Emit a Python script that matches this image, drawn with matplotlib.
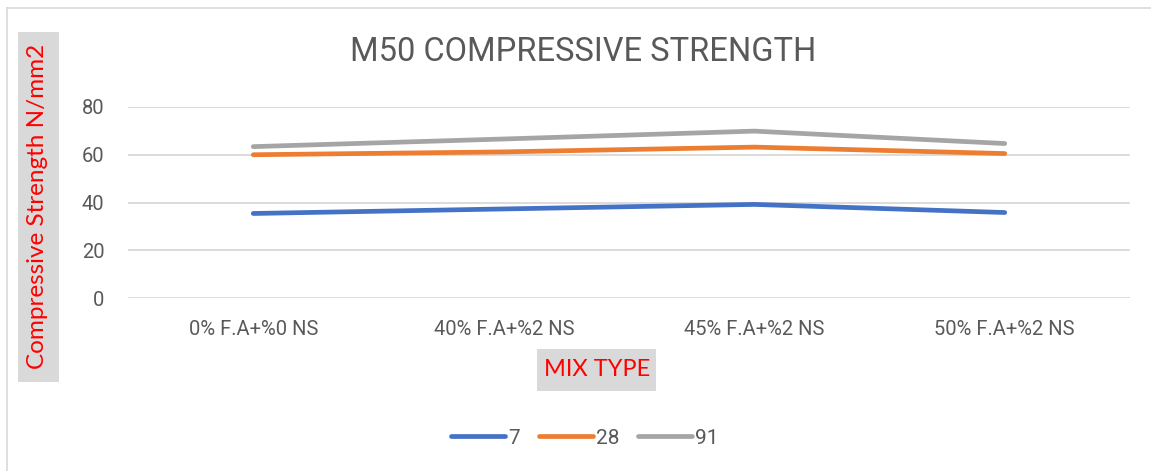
import matplotlib
matplotlib.use("Agg")
import matplotlib.pyplot as plt
from matplotlib.lines import Line2D
from matplotlib.patches import Rectangle

categories = ["0% F.A+%0 NS", "40% F.A+%2 NS", "45% F.A+%2 NS", "50% F.A+%2 NS"]
series_names = ["7", "28", "91"]
day7 = [35.4, 37.3, 39.2, 35.8]
day28 = [60.0, 61.2, 63.2, 60.5]
day91 = [63.4, 66.6, 69.9, 64.7]
yticks = [0, 20, 40, 60, 80]

colors = ["#4472C4", "#ED7D31", "#A5A5A5"]
txt_gray = "#595959"
narrow = ["Roboto", "Liberation Sans", "DejaVu Sans"]

W, H = 1151, 471
fig = plt.figure(figsize=(W / 100, H / 100), dpi=100)

# outer chart border (left & top)
fig.add_artist(Line2D([7 / W, 7 / W], [0, 1 - 8 / H], color="#d9d9d9", lw=1.2))
fig.add_artist(Line2D([7 / W, 1], [1 - 8 / H, 1 - 8 / H], color="#d9d9d9", lw=1.2))

left, right = 128 / W, 1130 / W
bottom, top = 1 - 298 / H, 1 - 107 / H
ax = fig.add_axes([left, bottom, right - left, top - bottom])

x = list(range(len(categories)))
for vals, c, name in zip([day7, day28, day91], colors, series_names):
    ax.plot(x, vals, color=c, lw=3.4, solid_capstyle="round", label=name, zorder=3)

ax.set_xlim(-0.5, len(categories) - 0.5)
ax.set_ylim(0, 80)
ax.set_yticks(yticks)
ax.set_xticks(x)
ax.set_xticklabels(categories)
for s in ax.spines.values():
    s.set_visible(False)
ax.grid(axis="y", color="#d9d9d9", lw=1.3, zorder=0)
ax.tick_params(axis="both", length=0, colors=txt_gray, labelsize=14.5)
ax.tick_params(axis="y", pad=17)
ax.tick_params(axis="x", pad=16)
for lab in ax.get_xticklabels() + ax.get_yticklabels():
    lab.set_family(narrow)
    lab.set_color(txt_gray)
ax.set_facecolor("none")

fig.text(583 / W, 1 - 52 / H, "M50 COMPRESSIVE STRENGTH", ha="center", va="center",
         fontsize=23.5, color=txt_gray, family=narrow)

fig.text(38 / W, 1 - 206 / H, "Compressive Strength N/mm2", rotation=90,
         ha="center", va="center", fontsize=17.5, color="red", family=["Lato", "DejaVu Sans"])
fig.add_artist(Rectangle((18 / W, 1 - 382 / H), 41 / W, 350 / H, transform=fig.transFigure,
                         facecolor="#d9d9d9", edgecolor="none", zorder=-1))

fig.text(597 / W, 1 - 370 / H, "MIX TYPE", ha="center", va="center",
         fontsize=17, color="red", family=["Lato", "DejaVu Sans"])
fig.add_artist(Rectangle((537 / W, 1 - 391 / H), 119 / W, 42 / H, transform=fig.transFigure,
                         facecolor="#d9d9d9", edgecolor="none", zorder=-1))

handles = [Line2D([], [], color=c, lw=3.4, solid_capstyle="round") for c in colors]
leg = fig.legend(handles, series_names, loc="center", bbox_to_anchor=(585 / W, 1 - 438 / H),
                 ncol=3, frameon=False, handlelength=2.6, handletextpad=0.15,
                 columnspacing=0.9, prop={"family": narrow, "size": 15})
for t in leg.get_texts():
    t.set_color(txt_gray)

fig.savefig("out.png", dpi=100)
